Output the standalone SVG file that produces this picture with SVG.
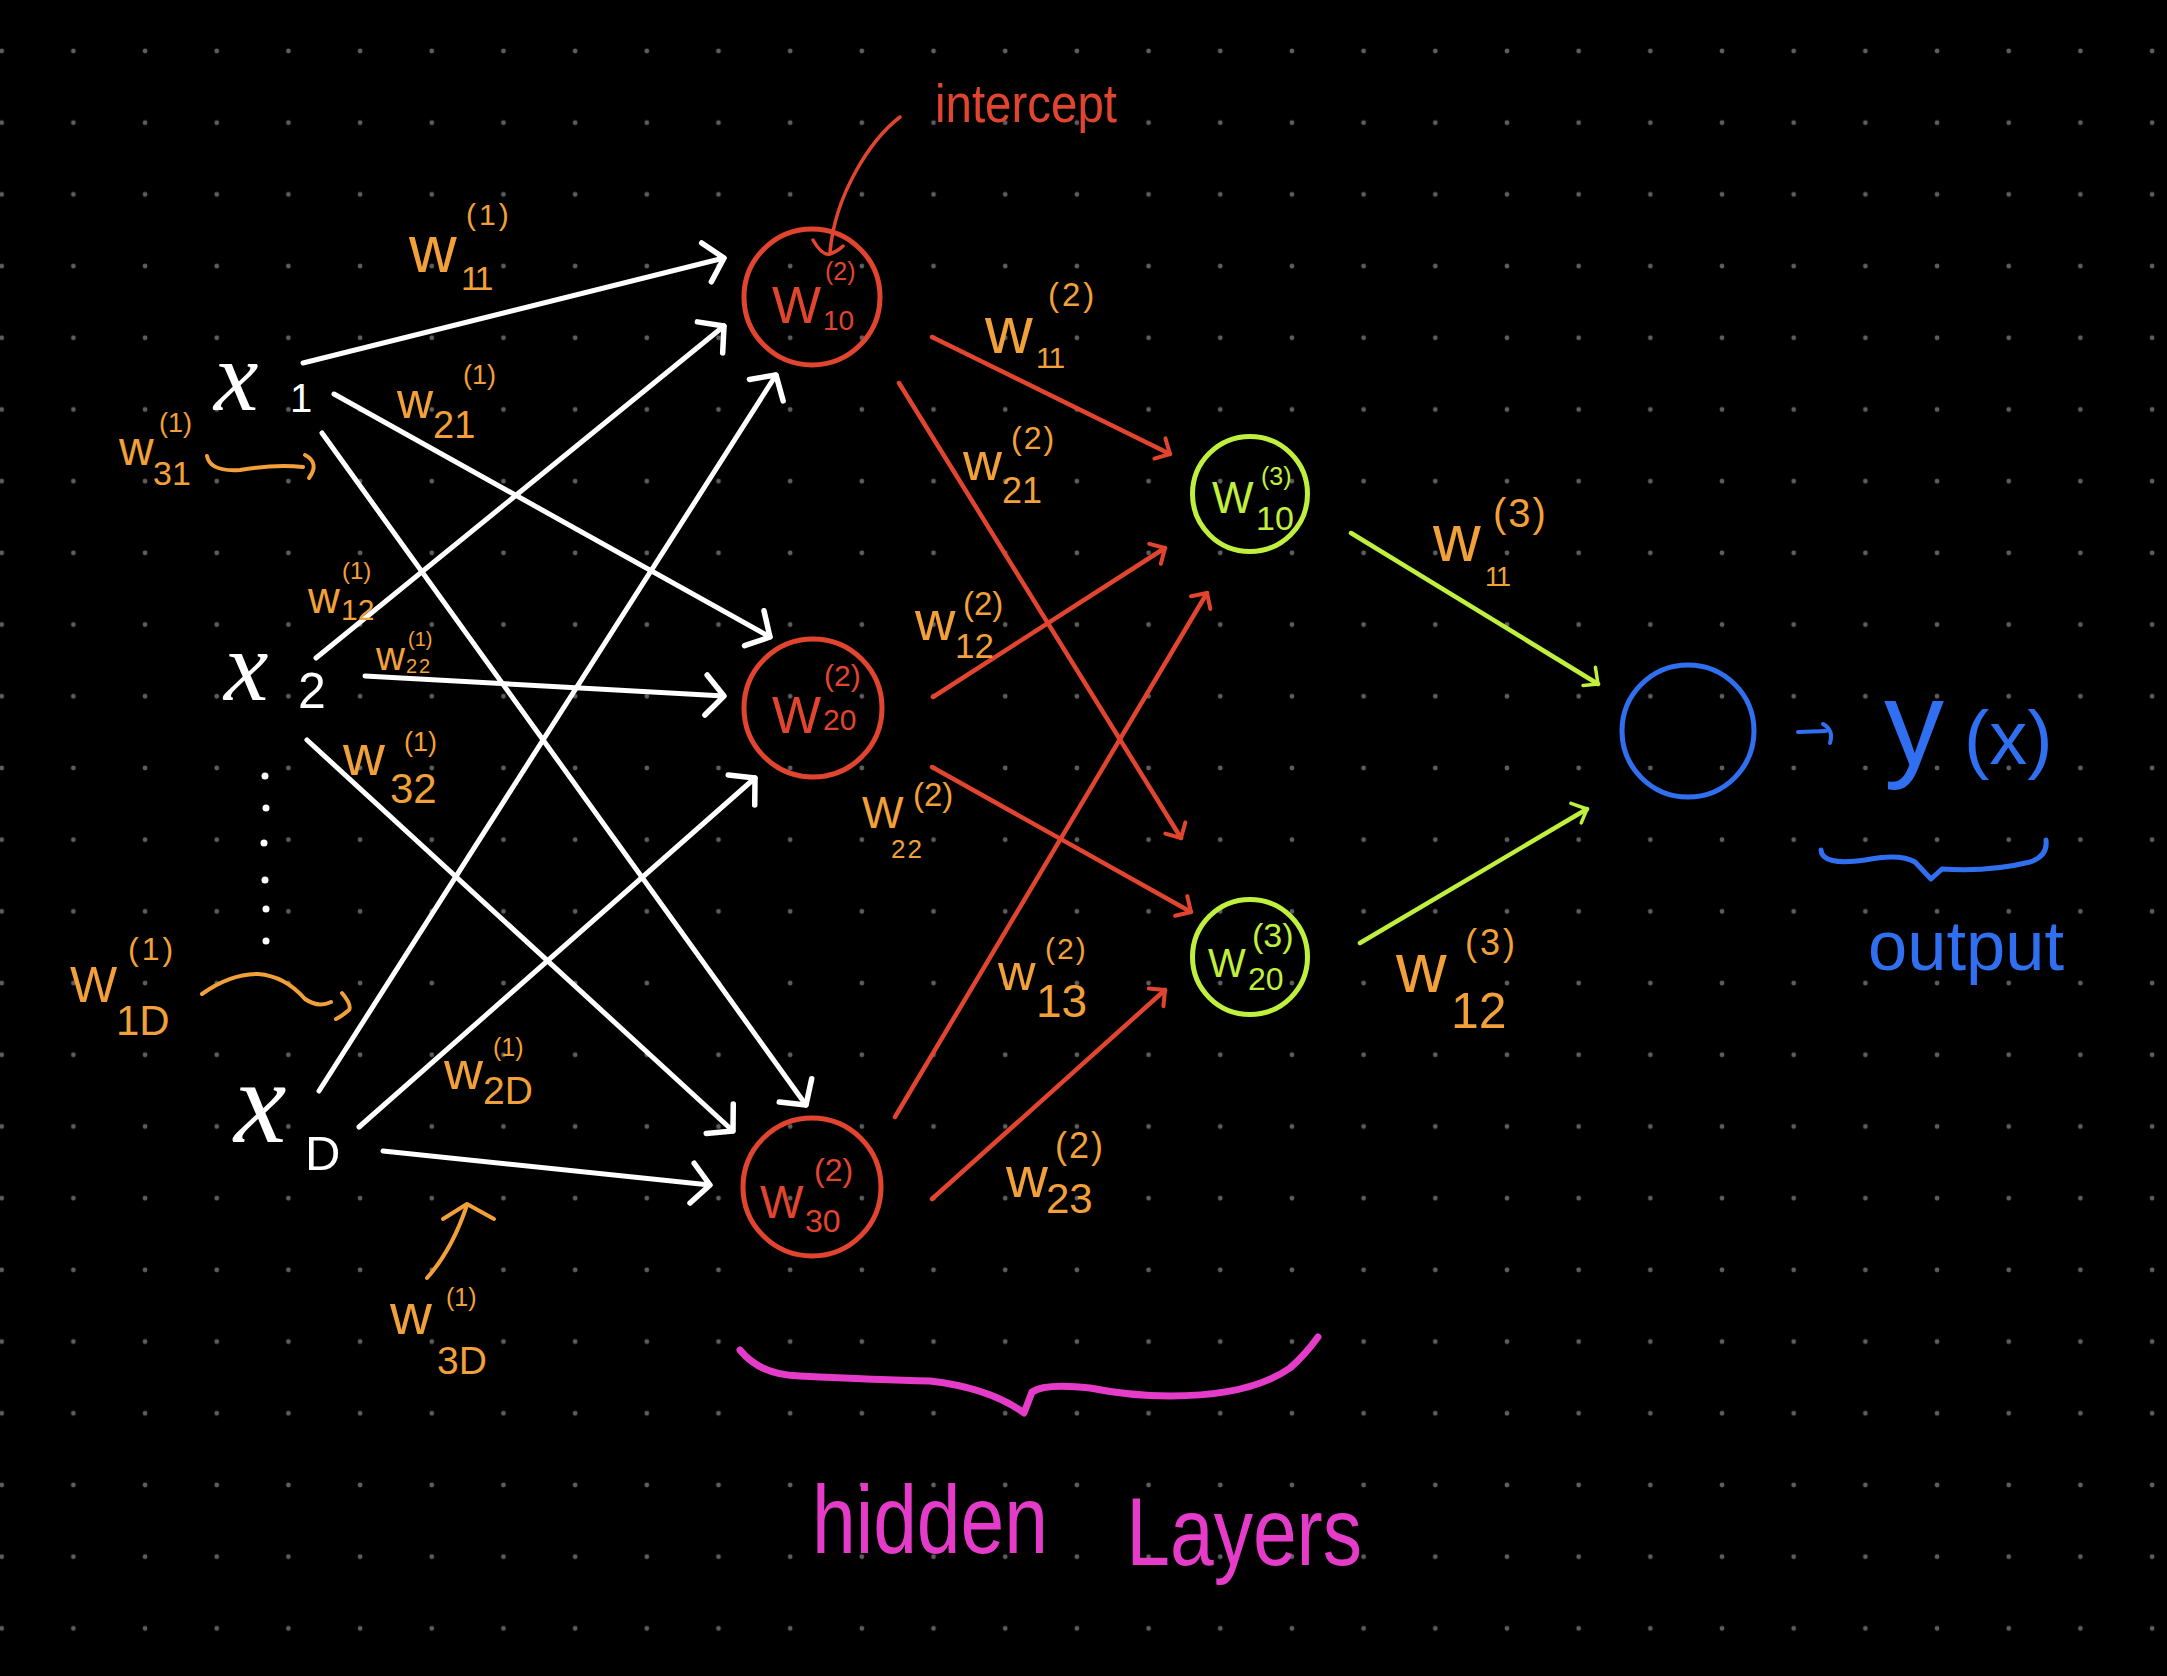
<svg xmlns="http://www.w3.org/2000/svg" width="2167" height="1676" viewBox="0 0 2167 1676">
<style>
.t{font-family:"Liberation Sans","DejaVu Sans",sans-serif;}
.xs{font-family:"Liberation Serif","DejaVu Serif",serif;font-style:italic;}
.o{fill:#f2a13a;}
.r{fill:#e2452f;}
.g{fill:#c0f03e;}
.b{fill:#2f6ff0;}
.m{fill:#e43cc8;}
.w{fill:#ffffff;}
.wl{stroke:#ffffff;stroke-width:5;fill:none;stroke-linecap:round;marker-end:url(#aw);}
.rl{stroke:#e2452f;stroke-width:4.5;fill:none;stroke-linecap:round;marker-end:url(#ar);}
.gl{stroke:#c0f03e;stroke-width:4.5;fill:none;stroke-linecap:round;marker-end:url(#ag);}
.rc{stroke:#e2452f;stroke-width:5;fill:none;}
.gc{stroke:#c0f03e;stroke-width:5;fill:none;}
.bc{stroke:#2f6ff0;stroke-width:5;fill:none;}
.os{stroke:#f2a13a;stroke-width:4;fill:none;stroke-linecap:round;stroke-linejoin:round;}
</style>
<defs>
<pattern id="dots" patternUnits="userSpaceOnUse" x="-34.14" y="15.15" width="71.68" height="71.7">
<circle cx="35.84" cy="35.85" r="2.4" fill="#5e5e5e"/>
</pattern>
<marker id="aw" markerUnits="userSpaceOnUse" orient="auto" markerWidth="60" markerHeight="60" refX="0" refY="0" viewBox="-30 -30 60 60" overflow="visible">
<path d="M-18,-20 L0,0 L-18,20" stroke="#ffffff" stroke-width="5.5" fill="none" stroke-linecap="round" stroke-linejoin="round"/>
</marker>
<marker id="ar" markerUnits="userSpaceOnUse" orient="auto" markerWidth="40" markerHeight="40" refX="0" refY="0" viewBox="-20 -20 40 40" overflow="visible">
<path d="M-11,-12 L0,0 L-12,11" stroke="#e2452f" stroke-width="4" fill="none" stroke-linecap="round" stroke-linejoin="round"/>
</marker>
<marker id="ag" markerUnits="userSpaceOnUse" orient="auto" markerWidth="40" markerHeight="40" refX="0" refY="0" viewBox="-20 -20 40 40" overflow="visible">
<path d="M-11,-13 L0,0 L-12,9" stroke="#c0f03e" stroke-width="3.5" fill="none" stroke-linecap="round" stroke-linejoin="round"/>
</marker>
</defs>
<rect x="0" y="0" width="2167" height="1676" fill="#000000"/>
<rect x="0" y="0" width="2167" height="1676" fill="url(#dots)"/>

<g id="connectors">
<line class="wl" x1="303" y1="363" x2="724" y2="258"/>
<line class="wl" x1="334" y1="394" x2="770" y2="637"/>
<line class="wl" x1="322" y1="433" x2="806" y2="1105"/>
<line class="wl" x1="316" y1="658" x2="724" y2="326"/>
<line class="wl" x1="365" y1="676" x2="724" y2="696"/>
<line class="wl" x1="307" y1="740" x2="733" y2="1131"/>
<line class="wl" x1="319" y1="1091" x2="776" y2="375"/>
<line class="wl" x1="359" y1="1127" x2="755" y2="778"/>
<line class="wl" x1="383" y1="1151" x2="710" y2="1185"/>
<line class="rl" x1="932" y1="337" x2="1170" y2="454"/>
<line class="rl" x1="899" y1="383" x2="1181" y2="838"/>
<line class="rl" x1="933" y1="697" x2="1165" y2="548"/>
<line class="rl" x1="932" y1="767" x2="1191" y2="912"/>
<line class="rl" x1="895" y1="1117" x2="1207" y2="593"/>
<line class="rl" x1="932" y1="1199" x2="1165" y2="990"/>
<line class="gl" x1="1351" y1="533" x2="1598" y2="684"/>
<line class="gl" x1="1360" y1="943" x2="1587" y2="809"/>
</g>

<g id="input-x1"><text class="xs w" x="214" y="410" font-size="100">x<tspan class="t" x="290" y="412" font-size="40" font-style="normal">1</tspan></text></g>
<g id="input-x2"><text class="xs w" x="224" y="700" font-size="100">x<tspan class="t" x="298" y="708" font-size="50" font-style="normal">2</tspan></text></g>
<g id="input-ellipsis">
<circle cx="265" cy="776" r="3.5" fill="#ffffff"/><circle cx="266" cy="808" r="3.5" fill="#ffffff"/><circle cx="264" cy="843" r="3.5" fill="#ffffff"/><circle cx="265" cy="880" r="3.5" fill="#ffffff"/><circle cx="266" cy="909" r="3.5" fill="#ffffff"/><circle cx="266" cy="941" r="3.5" fill="#ffffff"/>
</g>
<g id="input-xD"><text class="xs w" x="234" y="1142" font-size="118">x<tspan class="t" x="305" y="1170" font-size="49" font-style="normal">D</tspan></text></g>

<g id="hidden1-node1">
<circle class="rc" cx="812" cy="297" r="68"/>
<text class="t r"><tspan x="772" y="323" font-size="52">W</tspan><tspan x="823" y="330" font-size="28">10</tspan><tspan x="825" y="280" font-size="25">(2)</tspan></text>
</g>
<g id="hidden1-node2">
<circle class="rc" cx="813" cy="708" r="69"/>
<text class="t r"><tspan x="772" y="733" font-size="52">W</tspan><tspan x="823" y="730" font-size="30">20</tspan><tspan x="824" y="686" font-size="30">(2)</tspan></text>
</g>
<g id="hidden1-node3">
<circle class="rc" cx="812" cy="1187" r="69"/>
<text class="t r"><tspan x="760" y="1218" font-size="46">W</tspan><tspan x="805" y="1232" font-size="32">30</tspan><tspan x="814" y="1181" font-size="32">(2)</tspan></text>
</g>
<g id="hidden2-node1">
<circle class="gc" cx="1250" cy="494" r="57.5"/>
<text class="t g"><tspan x="1212" y="513" font-size="44">W</tspan><tspan x="1256" y="530" font-size="34">10</tspan><tspan x="1261" y="485" font-size="25">(3)</tspan></text>
</g>
<g id="hidden2-node2">
<circle class="gc" cx="1250" cy="957" r="57.5"/>
<text class="t g"><tspan x="1208" y="977" font-size="40">W</tspan><tspan x="1248" y="990" font-size="32">20</tspan><tspan x="1252" y="947" font-size="34">(3)</tspan></text>
</g>
<g id="output-node">
<circle class="bc" cx="1688" cy="731" r="66"/>
</g>

<g id="weights-layer1">
<text class="t o"><tspan x="409" y="272" font-size="66">w</tspan><tspan x="461" y="290" font-size="34" letter-spacing="-3">11</tspan><tspan x="466" y="225" font-size="30" letter-spacing="3">(1)</tspan></text>
<text class="t o"><tspan x="397" y="418" font-size="50">w</tspan><tspan x="433" y="438" font-size="38">21</tspan><tspan x="463" y="384" font-size="27">(1)</tspan></text>
<text class="t o"><tspan x="119" y="465" font-size="48">w</tspan><tspan x="153" y="485" font-size="34">31</tspan><tspan x="159" y="432" font-size="27">(1)</tspan></text>
<text class="t o"><tspan x="308" y="613" font-size="44">w</tspan><tspan x="341" y="620" font-size="30">12</tspan><tspan x="342" y="579" font-size="24">(1)</tspan></text>
<text class="t o"><tspan x="376" y="670" font-size="40">w</tspan><tspan x="406" y="673" font-size="20" letter-spacing="2">22</tspan><tspan x="408" y="646" font-size="20">(1)</tspan></text>
<text class="t o"><tspan x="343" y="775" font-size="58">w</tspan><tspan x="390" y="803" font-size="42">32</tspan><tspan x="404" y="751" font-size="27">(1)</tspan></text>
<text class="t o"><tspan x="70" y="1002" font-size="50">W</tspan><tspan x="116" y="1035" font-size="42">1D</tspan><tspan x="128" y="960" font-size="32" letter-spacing="3">(1)</tspan></text>
<text class="t o"><tspan x="444" y="1089" font-size="54">w</tspan><tspan x="483" y="1104" font-size="39">2D</tspan><tspan x="493" y="1056" font-size="25">(1)</tspan></text>
<text class="t o"><tspan x="390" y="1334" font-size="58">w</tspan><tspan x="437" y="1374" font-size="39">3D</tspan><tspan x="446" y="1306" font-size="25">(1)</tspan></text>
<path class="os" d="M207,456 Q210,472 240,470 Q275,464 303,467"/>
<path class="os" d="M305,455 Q320,463 309,478"/>
<path class="os" d="M202,994 Q230,974 258,974 Q285,976 305,999 Q318,1008 331,1002"/>
<path class="os" d="M342,993 Q352,1005 349,1010 Q342,1016 336,1019"/>
<path class="os" d="M427,1278 Q452,1250 467,1205"/>
<path class="os" d="M443,1219 L467,1204 L494,1219"/>
</g>

<g id="weights-layer2">
<text class="t o"><tspan x="985" y="353" font-size="66">w</tspan><tspan x="1036" y="368" font-size="30" letter-spacing="-2">11</tspan><tspan x="1048" y="306" font-size="33" letter-spacing="3">(2)</tspan></text>
<text class="t o"><tspan x="963" y="480" font-size="54">w</tspan><tspan x="1002" y="503" font-size="36">21</tspan><tspan x="1011" y="449" font-size="32" letter-spacing="2">(2)</tspan></text>
<text class="t o"><tspan x="915" y="640" font-size="56">w</tspan><tspan x="955" y="658" font-size="35">12</tspan><tspan x="963" y="615" font-size="33">(2)</tspan></text>
<text class="t o"><tspan x="862" y="828" font-size="44">W</tspan><tspan x="891" y="858" font-size="26" letter-spacing="2">22</tspan><tspan x="913" y="806" font-size="33">(2)</tspan></text>
<text class="t o"><tspan x="998" y="990" font-size="52">w</tspan><tspan x="1036" y="1017" font-size="46">13</tspan><tspan x="1045" y="959" font-size="30" letter-spacing="2">(2)</tspan></text>
<text class="t o"><tspan x="1006" y="1197" font-size="58">w</tspan><tspan x="1046" y="1213" font-size="42">23</tspan><tspan x="1055" y="1158" font-size="36" letter-spacing="2">(2)</tspan></text>
</g>

<g id="weights-layer3">
<text class="t o"><tspan x="1433" y="561" font-size="66">w</tspan><tspan x="1485" y="586" font-size="27" letter-spacing="-2">11</tspan><tspan x="1493" y="527" font-size="40" letter-spacing="2">(3)</tspan></text>
<text class="t o"><tspan x="1396" y="992" font-size="70">w</tspan><tspan x="1451" y="1028" font-size="50">12</tspan><tspan x="1465" y="955" font-size="36" letter-spacing="3">(3)</tspan></text>
</g>

<g id="intercept-note">
<text class="t r" x="935" y="122" font-size="54" textLength="182" lengthAdjust="spacingAndGlyphs">intercept</text>
<path d="M900,117 C870,140 835,195 830,252" stroke="#e2452f" stroke-width="3.5" fill="none" stroke-linecap="round"/>
<path d="M813,240 Q822,256 830,254 Q838,251 843,246" stroke="#e2452f" stroke-width="3.5" fill="none" stroke-linecap="round" stroke-linejoin="round"/>
</g>

<g id="output-label">
<path d="M1798,732 L1826,731" stroke="#2f6ff0" stroke-width="4" fill="none" stroke-linecap="round"/>
<path d="M1823,724 Q1834,730 1830,743" stroke="#2f6ff0" stroke-width="4" fill="none" stroke-linecap="round"/>
<text class="t b"><tspan x="1884" y="765" font-size="120">y</tspan><tspan x="1964" y="764" font-size="76">(x)</tspan></text>
<path d="M1821,850 Q1822,866 1865,860 Q1900,853 1915,862 L1931,879 L1942,869 Q1990,872 2030,862 Q2048,856 2046,840" stroke="#2f6ff0" stroke-width="5" fill="none" stroke-linecap="round" stroke-linejoin="round"/>
<text class="t b" x="1868" y="970" font-size="70" textLength="196" lengthAdjust="spacingAndGlyphs">output</text>
</g>

<g id="hidden-layers-label">
<path d="M740,1350 Q760,1375 800,1376 Q880,1380 930,1381 Q990,1388 1024,1413 L1032,1392 Q1045,1383 1090,1388 Q1130,1396 1170,1396 Q1250,1396 1290,1368 Q1305,1355 1318,1337" stroke="#e43cc8" stroke-width="7" fill="none" stroke-linecap="round" stroke-linejoin="round"/>
<text class="t m" transform="translate(812,1553) scale(0.81,1)" font-size="97"><tspan x="0" y="0">hidden</tspan><tspan x="388" y="12">Layers</tspan></text>
</g>
</svg>
